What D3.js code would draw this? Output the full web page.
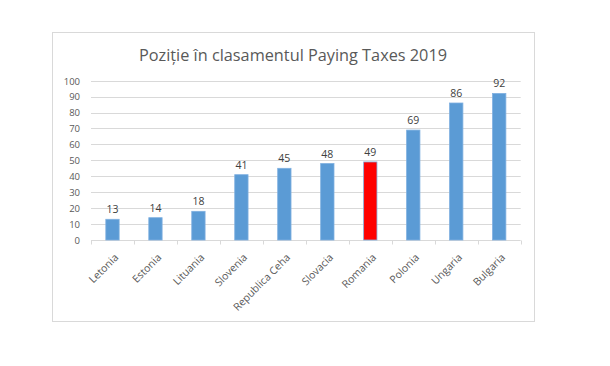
<!DOCTYPE html>
<html><head><meta charset="utf-8">
<script src="https://cdn.jsdelivr.net/npm/d3@7"></script>
<style>body{margin:0;background:#fff}svg{display:block}</style>
</head><body>
<script>
const categories = ["Letonia","Estonia","Lituania","Slovenia","Republica Ceha","Slovacia","Romania","Polonia","Ungaria","Bulgaria"];
const values = [13,14,18,41,45,48,49,69,86,92];
const highlight = ["Romania"];
const yTicks = [0,10,20,30,40,50,60,70,80,90,100];
const title = "Poziție în clasamentul Paying Taxes 2019";

const W = 610, H = 366;
const svg = d3.select("body").append("svg").attr("width", W).attr("height", H);
const font = "'Open Sans', 'Liberation Sans', sans-serif";

svg.append("rect").attr("x", 52.5).attr("y", 32.5).attr("width", 482).attr("height", 289)
  .attr("fill", "#fff").attr("stroke", "#d9d9d9");

const x = d3.scaleBand().domain(categories).range([91, 520.7]).paddingInner(0.69).paddingOuter(0.345);
const xb = d3.scaleBand().domain(categories).range([91, 520.7]);
const y = d3.scaleLinear().domain([0, 100]).range([240, 80.7]);

// title
const t = svg.append("text").attr("x", 293).attr("y", 61).attr("text-anchor", "middle")
  .attr("font-family", font).attr("font-size", 17).attr("fill", "#595959").text(title);
const tw = t.node().getComputedTextLength();
if (tw > 0) t.attr("textLength", 308).attr("lengthAdjust", "spacingAndGlyphs");

// grid
svg.append("g").selectAll("line").data(yTicks.filter(d => d > 0)).join("line")
  .attr("x1", 91).attr("x2", 520.7).attr("y1", d => Math.round(y(d)) + 0.5).attr("y2", d => Math.round(y(d)) + 0.5)
  .attr("stroke", "#d9d9d9").attr("stroke-width", 1);

// y axis labels
const yAxis = d3.axisLeft(y).tickValues(yTicks).tickSize(0).tickPadding(0);
const gy = svg.append("g").attr("transform", "translate(80,0)").call(yAxis);
gy.select(".domain").remove();
gy.selectAll("text").attr("font-family", font).attr("font-size", 9.5).attr("fill", "#595959").attr("dy", "0.35em");

// x axis
const gx = svg.append("g").attr("transform", "translate(0,240.5)");
gx.append("line").attr("x1", 91).attr("x2", 520.7).attr("stroke", "#d9d9d9");
const edges = categories.map(c => xb(c)).concat([xb(categories[categories.length-1]) + xb.bandwidth()]);
gx.selectAll("line.tk").data(edges).join("line").attr("class", "tk")
  .attr("x1", d => Math.round(d) + 0.5).attr("x2", d => Math.round(d) + 0.5).attr("y1", 0).attr("y2", 4)
  .attr("stroke", "#d9d9d9");
gx.selectAll("text").data(categories).join("text")
  .attr("transform", d => `translate(${xb(d) + xb.bandwidth()/2 + 4},${15}) rotate(-45)`)
  .attr("text-anchor", "end").attr("dy", "0.35em")
  .attr("font-family", font).attr("font-size", 10.5).attr("fill", "#595959").text(d => d);

// bars
svg.append("g").selectAll("rect").data(categories).join("rect")
  .attr("x", d => x(d)).attr("width", x.bandwidth())
  .attr("y", (d, i) => y(values[i])).attr("height", (d, i) => y(0) - y(values[i]))
  .attr("fill", d => highlight.includes(d) ? "#ff0000" : "#5b9bd5")
  .attr("stroke", "#7fb0e0").attr("stroke-width", 0.8);

// labels
svg.append("g").selectAll("text").data(categories).join("text")
  .attr("x", d => x(d) + x.bandwidth()/2).attr("y", (d, i) => y(values[i]) - 6)
  .attr("text-anchor", "middle").attr("font-family", font).attr("font-size", 10.5).attr("fill", "#404040")
  .text((d, i) => values[i]);
</script>
</body></html>
